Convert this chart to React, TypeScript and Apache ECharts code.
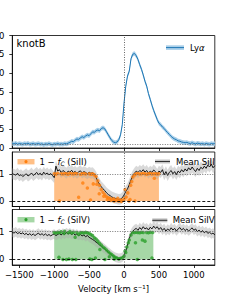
import { useEffect, useRef } from "react";
import * as echarts from "echarts";

// ---- data ----
const VELOCITY_START = -1600;
const VELOCITY_STEP = 25;

// Lyα flux, -1600 .. 1300 km/s every 25 km/s
const LYA_FLUX = [
  0.12, 0.11, 0.13, 0.10, 0.12, 0.11, 0.10, 0.12, 0.11, 0.13,
  0.10, 0.11, 0.12, 0.10, 0.11, 0.12, 0.10, 0.11, 0.09, 0.11,
  0.10, 0.12, 0.10, 0.09, 0.11, 0.10, 0.12, 0.10, 0.11, 0.10,
  0.12, 0.11, 0.13, 0.15, 0.18, 0.17, 0.21, 0.24, 0.23, 0.27,
  0.30, 0.28, 0.32, 0.35, 0.33, 0.38, 0.43, 0.42, 0.46, 0.48,
  0.46, 0.52, 0.54, 0.51, 0.43, 0.35, 0.27, 0.20, 0.16, 0.14,
  0.16, 0.22, 0.35, 0.62, 1.20, 1.65, 1.92, 2.05, 2.38, 2.50,
  2.52, 2.46, 2.36, 2.22, 2.10, 1.95, 1.78, 1.65, 1.45, 1.30,
  1.14, 1.00, 0.88, 0.76, 0.66, 0.62, 0.56, 0.52, 0.46, 0.41,
  0.36, 0.31, 0.27, 0.24, 0.22, 0.19, 0.18, 0.16, 0.15, 0.14,
  0.15, 0.13, 0.12, 0.14, 0.12, 0.11, 0.13, 0.12, 0.11, 0.12,
  0.10, 0.12, 0.11, 0.10, 0.12, 0.11, 0.12,
];
const LYA_ERR = 0.06;

// Mean SiII normalized flux
const SIII_MEAN = [
  1.00, 0.98, 0.95, 1.02, 0.93, 0.97, 0.90, 0.95, 1.00, 0.92,
  0.96, 1.03, 0.94, 0.99, 1.05, 0.97, 1.02, 0.95, 1.06, 0.98,
  1.03, 0.96, 1.01, 0.94, 0.86, 1.28, 1.10, 1.15, 1.05, 1.12,
  1.08, 1.02, 1.10, 1.06, 1.13, 1.04, 1.09, 1.02, 1.07, 1.11,
  1.03, 1.08, 1.05, 1.00, 1.06, 1.02, 1.04, 0.98, 0.88, 0.72,
  0.62, 0.52, 0.45, 0.38, 0.30, 0.24, 0.20, 0.15, 0.12, 0.10,
  0.08, 0.06, 0.07, 0.12, 0.22, 0.35, 0.45, 0.60, 0.78, 0.92,
  1.02, 1.10, 1.05, 1.12, 1.08, 1.15, 1.06, 1.12, 1.02, 1.10,
  1.05, 1.14, 1.08, 0.98, 1.10, 1.05, 1.15, 0.96, 1.08, 0.94,
  1.06, 1.12, 1.00, 1.08, 0.97, 1.10, 1.04, 1.15, 1.07, 1.18,
  1.10, 1.22, 1.14, 1.25, 1.16, 1.08, 1.20, 1.12, 1.24, 1.18,
  1.28, 1.20, 1.32, 1.25, 1.35, 1.22, 1.30,
];
const SIII_ERR = 0.2;

// Mean SiIV normalized flux
const SIIV_MEAN = [
  0.98, 0.95, 1.00, 0.93, 0.97, 0.92, 0.96, 0.90, 0.94, 0.88,
  0.93, 0.87, 0.92, 0.86, 0.91, 0.95, 0.88, 0.93, 0.87, 0.92,
  0.86, 0.90, 0.85, 0.89, 0.92, 0.86, 0.90, 0.94, 0.88, 0.95,
  0.90, 0.97, 0.92, 0.96, 0.90, 0.94, 0.88, 0.92, 0.86, 0.90,
  0.85, 0.88, 0.82, 0.86, 0.80, 0.76, 0.72, 0.68, 0.62, 0.58,
  0.52, 0.48, 0.42, 0.38, 0.32, 0.26, 0.22, 0.16, 0.12, 0.08,
  0.06, 0.04, 0.05, 0.08, 0.15, 0.30, 0.52, 0.75, 0.92, 1.02,
  1.08, 1.12, 1.05, 1.15, 1.08, 1.18, 1.10, 1.14, 1.06, 1.16,
  1.10, 1.20, 1.12, 1.18, 1.08, 1.15, 1.05, 1.12, 1.02, 1.10,
  1.04, 1.14, 1.06, 1.12, 1.02, 1.10, 1.15, 1.06, 1.12, 1.04,
  1.10, 1.02, 1.08, 1.14, 1.05, 1.10, 1.00, 1.06, 0.98, 1.04,
  0.96, 1.02, 0.94, 0.98, 0.92, 0.95, 0.88,
];
const SIIV_ERR = 0.17;

// 1 - f_C profiles (velocity, value)
const SIII_COVER: [number, number][] = [
  [-1000, 1.0], [-900, 1.0], [-800, 1.0], [-700, 1.0], [-600, 1.0], [-500, 1.0],
  [-450, 0.99], [-425, 0.95], [-400, 0.86], [-375, 0.72], [-350, 0.6], [-325, 0.48],
  [-300, 0.38], [-275, 0.3], [-250, 0.24], [-225, 0.19], [-200, 0.15], [-175, 0.12],
  [-150, 0.09], [-125, 0.07], [-100, 0.05], [-75, 0.04], [-50, 0.04], [-25, 0.06],
  [0, 0.14], [25, 0.28], [50, 0.42], [75, 0.58], [100, 0.74], [125, 0.88],
  [150, 0.98], [175, 1.0], [300, 1.0], [400, 1.0], [500, 1.0],
];
const SIIV_COVER: [number, number][] = [
  [-1000, 0.97], [-900, 0.97], [-800, 0.97], [-700, 0.97], [-600, 0.97], [-500, 0.96],
  [-475, 0.92], [-450, 0.86], [-425, 0.8], [-400, 0.73], [-375, 0.66], [-350, 0.6],
  [-325, 0.53], [-300, 0.47], [-275, 0.41], [-250, 0.36], [-225, 0.3], [-200, 0.25],
  [-175, 0.2], [-150, 0.16], [-125, 0.12], [-100, 0.08], [-75, 0.06], [-50, 0.05],
  [-25, 0.06], [0, 0.12], [25, 0.26], [50, 0.5], [75, 0.72], [100, 0.88],
  [125, 0.97], [200, 0.97], [300, 0.97], [420, 0.97],
];

// 1 - f_C individual measurements
const SIII_POINTS: [number, number][] = [
  [-1000, 1.0], [-975, 0.98], [-950, 1.02], [-925, 0.0], [-900, 1.0], [-875, 0.99],
  [-850, 1.01], [-825, 1.0], [-800, 0.98], [-775, 1.02], [-750, 1.0], [-725, 0.99],
  [-700, 1.01], [-675, 1.0], [-650, 0.14], [-625, 0.98], [-600, 1.0], [-590, 0.66],
  [-575, 1.01], [-550, 0.99], [-525, 0.48], [-500, 1.0], [-480, 0.04], [-475, 0.98],
  [-450, 1.0], [-440, 0.63], [-425, 0.96], [-400, 0.9], [-390, 0.62], [-375, 0.74],
  [-355, 0.27], [-350, 0.58], [-325, 0.42], [-300, 0.32], [-290, 0.18], [-275, 0.24],
  [-250, 0.16], [-240, 0.05], [-225, 0.12], [-200, 0.1], [-190, 0.02], [-175, 0.06],
  [-150, 0.08], [-140, 0.0], [-125, 0.04], [-100, 0.02], [-90, 0.1], [-75, 0.0],
  [-50, 0.05], [-40, -0.02], [-25, 0.02], [0, 0.08], [14, 0.42], [30, 0.15],
  [53, 0.3], [70, 0.0], [86, 0.06], [95, 0.58], [110, 0.72], [125, 0.88],
  [150, 0.96], [157, 0.0], [175, 1.0], [200, 1.01], [225, 0.99], [250, 1.0],
  [275, 1.02], [300, 1.0], [325, 0.98], [350, 1.0], [375, 1.01], [400, 0.99],
  [425, 1.0], [434, 0.84], [450, 1.0], [475, 0.99], [500, 1.0],
];
const SIIV_POINTS: [number, number][] = [
  [-1000, 0.97], [-975, 0.95], [-950, 0.98], [-932, 0.08], [-925, 0.96], [-900, 1.0],
  [-875, 0.0], [-860, 0.94], [-850, 1.02], [-825, 0.0], [-800, 0.96], [-790, 0.02],
  [-775, 1.01], [-750, 0.95], [-740, 0.0], [-725, 0.98], [-700, 0.8], [-690, 0.0],
  [-675, 0.97], [-650, 0.9], [-625, 0.96], [-600, 0.97], [-575, 0.95], [-550, 0.98],
  [-525, 0.96], [-500, 0.94], [-490, 0.02], [-475, 0.9], [-460, 0.0], [-450, 0.86],
  [-425, 0.78], [-410, 0.05], [-400, 0.74], [-375, 0.66], [-350, 0.58], [-346, 0.36],
  [-325, 0.52], [-300, 0.45], [-274, 0.0], [-275, 0.4], [-250, 0.34], [-225, 0.28],
  [-210, 0.1], [-200, 0.22], [-175, 0.18], [-150, 0.12], [-140, 0.02], [-125, 0.08],
  [-100, 0.05], [-75, 0.02], [-50, 0.04], [-25, 0.06], [0, 0.12], [14, 0.3],
  [25, 0.25], [40, 0.45], [62, 0.6], [75, 0.7], [100, 0.88], [125, 0.97],
  [150, 0.97], [164, 0.6], [175, 0.98], [190, 0.0], [200, 0.97], [225, 0.96],
  [250, 0.98], [263, 0.7], [275, 0.97], [300, 0.66], [325, 0.97], [350, 0.96],
  [375, 0.98], [400, 0.05], [410, 0.97],
];

const X_TICKS = [-1500, -1000, -500, 0, 500, 1000];
const Y_TICKS_ABS = [0, 1];
const LYA_CONTINUUM = 0.1;

const FONT = "DejaVu Sans";
const BLUE = "#1f77b4";
const ORANGE = "#ff7f0e";
const GREEN = "#2ca02c";

const velocityOf = (i: number) => VELOCITY_START + i * VELOCITY_STEP;
const minusFmt = (v: number) => (v < 0 ? "\u2212" + Math.abs(v) : String(v));

function bandSeries(axis: number, vals: number[], err: number, color: string) {
  const data = vals.map((y, i) => [velocityOf(i), y - err, y + err]);
  return {
    type: "custom",
    xAxisIndex: axis,
    yAxisIndex: axis,
    data,
    encode: { x: 0, y: [1, 2] },
    clip: true,
    silent: true,
    z: 1,
    renderItem: (params: any, api: any) => {
      if (params.dataIndex !== 0) return null;
      const upper = data.map((d) => api.coord([d[0], d[2]]));
      const lower = data.map((d) => api.coord([d[0], d[1]])).reverse();
      return {
        type: "polygon",
        shape: { points: upper.concat(lower) },
        style: { fill: color },
      };
    },
  };
}

function refLines(withHorizontal: boolean) {
  const data: any[] = [
    { xAxis: 0, lineStyle: { color: "#555", type: [1, 1.5], width: 0.9 } },
  ];
  if (withHorizontal) {
    data.push({ yAxis: 1, lineStyle: { color: "#666", type: [1, 1.5], width: 0.9 } });
    data.push({ yAxis: 0, lineStyle: { color: "#000", type: [3, 2], width: 0.9 } });
  } else {
    data.push({ yAxis: LYA_CONTINUUM, lineStyle: { color: "#666", type: [1, 1.5], width: 0.9 } });
  }
  return { symbol: ["none", "none"], silent: true, label: { show: false }, animation: false, data };
}

const GRIDS = [
  { left: 12.3, width: 202.5, top: 35.5, height: 112.5 },
  { left: 12.3, width: 202.5, top: 152, height: 54.5 },
  { left: 12.3, width: 202.5, top: 209.5, height: 55.5 },
];

export default function App() {
  const ref = useRef<HTMLDivElement>(null);
  useEffect(() => {
    if (!ref.current) return;
    const chart = echarts.init(ref.current, undefined, { renderer: "svg" });
    const axisLine = { show: true, onZero: false, lineStyle: { color: "#000", width: 0.8 } };
    const tickStyle = { color: "#000", width: 0.8 };

    const xAxes = GRIDS.map((_g, i) => ({
      type: "value",
      gridIndex: i,
      min: -1600,
      max: 1300,
      axisLine,
      splitLine: { show: false },
      axisTick: { show: true, customValues: X_TICKS, length: 3, lineStyle: tickStyle },
      axisLabel: {
        show: i === 2,
        customValues: X_TICKS,
        formatter: minusFmt,
        fontSize: 8.5,
        fontFamily: FONT,
        color: "#000",
        margin: 5,
      },
      ...(i === 2
        ? {
            name: "Velocity [km s\u207B\u00B9]",
            nameLocation: "middle",
            nameGap: 19,
            nameTextStyle: { fontSize: 8.5, fontFamily: FONT, color: "#000" },
          }
        : {}),
    }));

    const yAxes = GRIDS.map((_g, i) =>
      i === 0
        ? {
            type: "value",
            gridIndex: 0,
            min: 0,
            max: 3,
            interval: 0.5,
            axisLine,
            splitLine: { show: false },
            axisTick: { show: true, length: 3, lineStyle: tickStyle },
            axisLabel: {
              formatter: (v: number) => v.toFixed(1),
              fontSize: 8.5,
              fontFamily: FONT,
              color: "#000",
              margin: 8,
            },
          }
        : {
            type: "value",
            gridIndex: i,
            min: -0.2,
            max: 1.8,
            axisLine,
            splitLine: { show: false },
            axisTick: { show: true, customValues: Y_TICKS_ABS, length: 3, lineStyle: tickStyle },
            axisLabel: {
              customValues: Y_TICKS_ABS,
              formatter: (v: number) => String(v),
              fontSize: 8.5,
              fontFamily: FONT,
              color: "#000",
              margin: 8,
            },
          }
    );

    const series: any[] = [
      // Lyα panel
      bandSeries(0, LYA_FLUX, LYA_ERR, "#a9cfe9"),
      {
        type: "line",
        name: "Lyα",
        xAxisIndex: 0,
        yAxisIndex: 0,
        data: LYA_FLUX.map((y, i) => [velocityOf(i), y]),
        symbol: "none",
        lineStyle: { color: BLUE, width: 1 },
        markLine: refLines(false),
        z: 3,
      },
      // SiII panel
      {
        type: "line",
        xAxisIndex: 1,
        yAxisIndex: 1,
        data: SIII_COVER,
        symbol: "none",
        lineStyle: { width: 0 },
        areaStyle: { color: "rgba(255,127,14,0.5)", opacity: 1 },
        silent: true,
        z: 0,
      },
      bandSeries(1, SIII_MEAN, SIII_ERR, "rgba(170,170,170,0.45)"),
      {
        type: "line",
        name: "Mean SiII",
        xAxisIndex: 1,
        yAxisIndex: 1,
        data: SIII_MEAN.map((y, i) => [velocityOf(i), y]),
        symbol: "none",
        lineStyle: { color: "#000", width: 0.9 },
        markLine: refLines(true),
        z: 3,
      },
      {
        type: "scatter",
        name: "1 − fC (SiII)",
        xAxisIndex: 1,
        yAxisIndex: 1,
        data: SIII_POINTS,
        symbolSize: 3.5,
        itemStyle: { color: ORANGE },
        z: 4,
      },
      // SiIV panel
      {
        type: "line",
        xAxisIndex: 2,
        yAxisIndex: 2,
        data: SIIV_COVER,
        symbol: "none",
        lineStyle: { width: 0 },
        areaStyle: { color: "rgba(44,160,44,0.42)", opacity: 1 },
        silent: true,
        z: 0,
      },
      bandSeries(2, SIIV_MEAN, SIIV_ERR, "rgba(170,170,170,0.45)"),
      {
        type: "line",
        name: "Mean SiIV",
        xAxisIndex: 2,
        yAxisIndex: 2,
        data: SIIV_MEAN.map((y, i) => [velocityOf(i), y]),
        symbol: "none",
        lineStyle: { color: "#000", width: 0.9 },
        markLine: refLines(true),
        z: 3,
      },
      {
        type: "scatter",
        name: "1 − fC (SiIV)",
        xAxisIndex: 2,
        yAxisIndex: 2,
        data: SIIV_POINTS,
        symbolSize: 3.5,
        itemStyle: { color: GREEN },
        z: 4,
      },
    ];

    const txt = (x: number, y: number, text: string, size = 8.5, rich?: any) => ({
      type: "text",
      x,
      y,
      z: 100,
      style: {
        text,
        fontSize: size,
        fontFamily: FONT,
        fill: "#000",
        verticalAlign: "middle",
        align: "left",
        ...(rich ? { rich } : {}),
      },
    });
    const fcRich = {
      i: { fontStyle: "italic", fontSize: 8.5, fontFamily: FONT, fill: "#000" },
      sub: { fontStyle: "italic", fontSize: 6, fontFamily: FONT, fill: "#000", padding: [4, 0, 0, 0] },
    };

    const graphic: any[] = [
      txt(16.5, 43, "knotB", 10),
      // Lyα legend
      { type: "rect", shape: { x: 166, y: 45.3, width: 18, height: 4.6 }, style: { fill: "#a9cfe9" }, z: 100 },
      { type: "line", shape: { x1: 166, y1: 47.6, x2: 184, y2: 47.6 }, style: { stroke: BLUE, lineWidth: 1 }, z: 101 },
      txt(190, 47.5, "Ly{i|α}", 8.5, { i: { fontStyle: "italic", fontSize: 8.5, fontFamily: FONT, fill: "#000" } }),
      // SiII legends
      { type: "rect", shape: { x: 17.5, y: 159, width: 17, height: 5.4 }, style: { fill: "rgba(255,127,14,0.5)" }, z: 100 },
      { type: "circle", shape: { cx: 26, cy: 161.7, r: 1.6 }, style: { fill: ORANGE }, z: 101 },
      txt(39.5, 161.7, "1 − {i|f}{sub|C} (SiII)", 8.5, fcRich),
      { type: "rect", shape: { x: 155, y: 159.5, width: 15, height: 4 }, style: { fill: "rgba(160,160,160,0.6)" }, z: 100 },
      { type: "line", shape: { x1: 155, y1: 161.5, x2: 170, y2: 161.5 }, style: { stroke: "#333", lineWidth: 1 }, z: 101 },
      txt(176, 161.7, "Mean SiII"),
      // SiIV legends
      { type: "rect", shape: { x: 17.5, y: 217, width: 17, height: 5.4 }, style: { fill: "rgba(44,160,44,0.42)" }, z: 100 },
      { type: "circle", shape: { cx: 26, cy: 219.7, r: 1.6 }, style: { fill: GREEN }, z: 101 },
      txt(39.5, 219.7, "1 − {i|f}{sub|C} (SiIV)", 8.5, fcRich),
      { type: "rect", shape: { x: 152.3, y: 218.3, width: 15, height: 4 }, style: { fill: "rgba(160,160,160,0.6)" }, z: 100 },
      { type: "line", shape: { x1: 152.3, y1: 220.3, x2: 167.3, y2: 220.3 }, style: { stroke: "#333", lineWidth: 1 }, z: 101 },
      txt(172.7, 220.3, "Mean SiIV"),
    ];

    chart.setOption({
      animation: false,
      backgroundColor: "#fff",
      textStyle: { fontFamily: FONT },
      grid: GRIDS.map((g) => ({
        ...g,
        show: true,
        borderColor: "#000",
        borderWidth: 0.8,
        backgroundColor: "transparent",
        containLabel: false,
        outerBoundsMode: "none",
      })),
      xAxis: xAxes,
      yAxis: yAxes,
      series,
      graphic,
    });
    return () => chart.dispose();
  }, []);
  return (
    <div
      ref={ref}
      style={{ position: "fixed", left: 0, top: 0, width: 241, height: 298 }}
    />
  );
}
